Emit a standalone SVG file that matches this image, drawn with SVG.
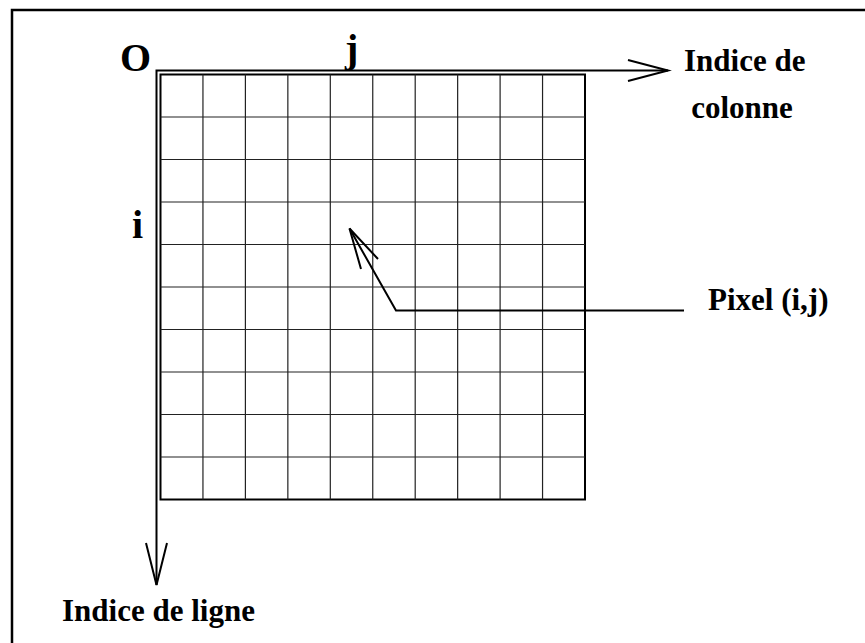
<svg xmlns="http://www.w3.org/2000/svg" width="865" height="643" viewBox="0 0 865 643">
<style>
.t{font-family:"Liberation Serif","Times New Roman",serif;font-weight:bold;fill:#000}
.big{font-size:40px}
.lab{font-size:31px}
.ax{fill:none;stroke:#000;stroke-width:2}
.grid{fill:none;stroke:#222;stroke-width:1.2}
</style>
<rect x="0" y="0" width="865" height="643" fill="#fff"/>
<path d="M12,643 V10 H865" fill="none" stroke="#000" stroke-width="2.5"/>
<g id="grid">
<rect x="160.5" y="74.5" width="424.5" height="425" fill="none" stroke="#000" stroke-width="2"/>
<path class="grid" d="M202.95,74.5V499.5M245.4,74.5V499.5M287.85,74.5V499.5M330.3,74.5V499.5M372.75,74.5V499.5M415.2,74.5V499.5M457.65,74.5V499.5M500.1,74.5V499.5M542.55,74.5V499.5M160.5,117H585M160.5,159.5H585M160.5,202H585M160.5,244.5H585M160.5,287H585M160.5,329.5H585M160.5,372H585M160.5,414.5H585M160.5,457H585"/>
</g>
<g id="connectors">
<path class="ax" d="M668,70.5 H156.5 V585"/>
<path class="ax" d="M628,60 L668,70.5 L628,81"/>
<path class="ax" d="M146,543 L156.5,585 L167,543"/>
<path class="ax" d="M684,310.5 H396 L349.5,228.5"/>
<path class="ax" d="M361,269 L349.5,228.5 L378,259"/>
</g>
<g id="labels">
<text class="t big" x="120" y="71">O</text>
<text class="t big" x="345" y="62">j</text>
<text class="t big" x="132" y="238">i</text>
<text class="t lab" x="684" y="71">Indice de</text>
<text class="t lab" x="742" y="118" text-anchor="middle">colonne</text>
<text class="t lab" x="708" y="310">Pixel (i,j)</text>
<text class="t lab" x="62" y="621">Indice de ligne</text>
</g>
</svg>
